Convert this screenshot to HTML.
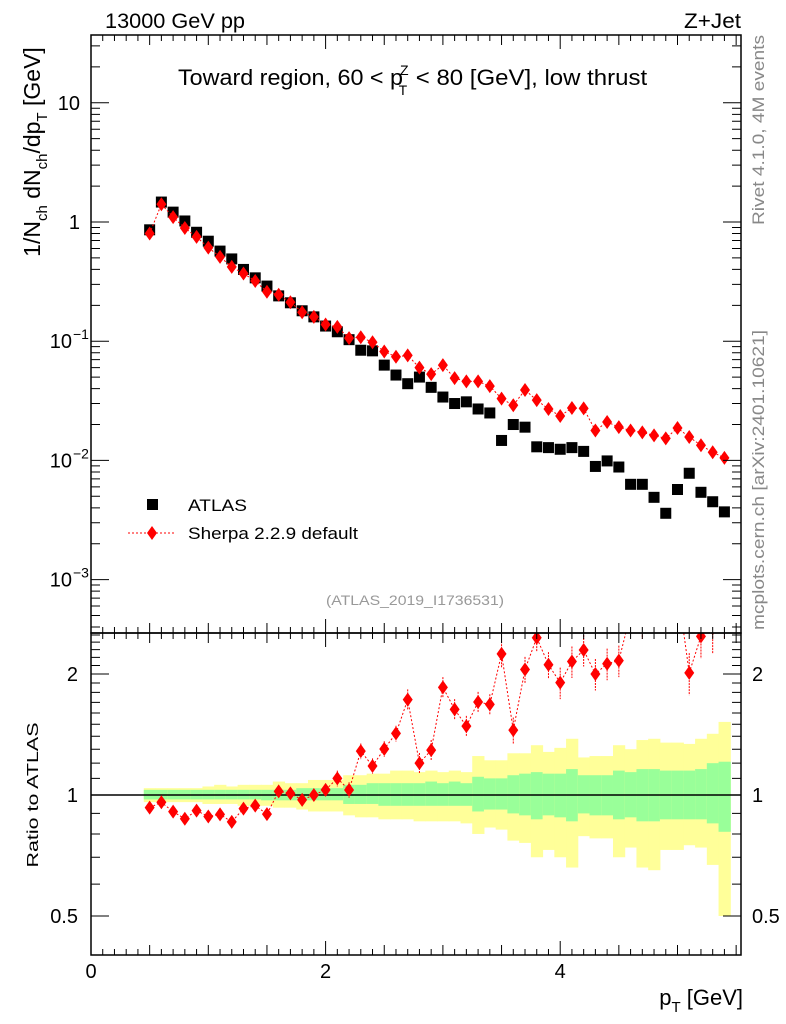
<!DOCTYPE html>
<html><head><meta charset="utf-8"><style>
body{margin:0;background:#fff}
svg{display:block;font-family:"Liberation Sans",sans-serif}
</style></head><body>
<svg id="c" width="786" height="1024" viewBox="0 0 786 1024" xmlns="http://www.w3.org/2000/svg">
<g id="bands"></g><g id="marks"></g><g id="axes"></g>
<text x="105" y="28" font-size="21" textLength="140" lengthAdjust="spacingAndGlyphs">13000 GeV pp</text>
<text x="684" y="28" font-size="21" textLength="57" lengthAdjust="spacingAndGlyphs">Z+Jet</text>
<text x="178" y="85" font-size="22"><tspan textLength="225" lengthAdjust="spacingAndGlyphs">Toward region, 60 &lt; p</tspan><tspan font-size="14" dy="-10" dx="-3">Z</tspan><tspan font-size="14" dy="20" dx="-10">T</tspan><tspan dy="-10" dx="2" textLength="238" lengthAdjust="spacingAndGlyphs"> &lt; 80 [GeV], low thrust</tspan></text>
<text transform="translate(40,152) rotate(-90)" font-size="23" text-anchor="middle">1/N<tspan font-size="15" dy="7">ch</tspan><tspan dy="-7"> dN</tspan><tspan font-size="15" dy="7">ch</tspan><tspan dy="-7">/dp</tspan><tspan font-size="15" dy="7">T</tspan><tspan dy="-7"> [GeV]</tspan></text>
<text transform="translate(764,130) rotate(-90)" font-size="17" fill="#888" text-anchor="middle" textLength="190" lengthAdjust="spacingAndGlyphs">Rivet 4.1.0,  4M events</text>
<text transform="translate(764,480) rotate(-90)" font-size="17" fill="#888" text-anchor="middle" textLength="300" lengthAdjust="spacingAndGlyphs">mcplots.cern.ch [arXiv:2401.10621]</text>
<text x="415" y="605" font-size="14" fill="#999" text-anchor="middle" textLength="178" lengthAdjust="spacingAndGlyphs">(ATLAS_2019_I1736531)</text>
<rect x="147" y="499" width="11" height="11" fill="#000"/>
<text x="188" y="511" font-size="17" textLength="59" lengthAdjust="spacingAndGlyphs">ATLAS</text>
<line x1="128" y1="533" x2="176" y2="533" stroke="#f00" stroke-dasharray="2,2"/>
<path d="M152,526 L157,533 L152,540 L147,533Z" fill="#f00"/>
<text x="188" y="539" font-size="17" textLength="170" lengthAdjust="spacingAndGlyphs">Sherpa 2.2.9 default</text>
<text transform="translate(38,795) rotate(-90)" font-size="16" text-anchor="middle" textLength="145" lengthAdjust="spacingAndGlyphs">Ratio to ATLAS</text>
<text x="743" y="1005" font-size="22" text-anchor="end">p<tspan font-size="15" dy="7">T</tspan><tspan dy="-7"> [GeV]</tspan></text>
</svg>
<script>
const atlas=[0.86,1.47,1.21,1.02,0.82,0.69,0.57,0.49,0.40,0.34,0.29,0.24,0.21,0.18,0.16,0.134,0.12,0.103,0.084,0.083,0.063,0.052,0.044,0.050,0.041,0.034,0.030,0.031,0.027,0.025,0.0147,0.020,0.019,0.013,0.0128,0.0124,0.0128,0.0119,0.0089,0.0099,0.0088,0.0063,0.0063,0.0049,0.0036,0.0057,0.0078,0.0054,0.0045,0.0037];
const sherpa=[0.80,1.41,1.10,0.89,0.75,0.61,0.51,0.42,0.37,0.32,0.26,0.245,0.212,0.175,0.16,0.138,0.132,0.106,0.108,0.098,0.082,0.074,0.076,0.060,0.053,0.063,0.049,0.046,0.046,0.042,0.033,0.029,0.039,0.032,0.027,0.0236,0.0275,0.0273,0.0178,0.021,0.019,0.0178,0.0172,0.0162,0.0153,0.0187,0.0157,0.0134,0.0117,0.0105];
const sherpaErr=[0.02,0.02,0.02,0.02,0.02,0.02,0.02,0.02,0.02,0.02,0.02,0.02,0.02,0.02,0.02,0.02,0.03,0.03,0.03,0.03,0.03,0.03,0.04,0.04,0.04,0.04,0.04,0.04,0.04,0.04,0.05,0.05,0.05,0.05,0.05,0.06,0.06,0.06,0.06,0.06,0.06,0.07,0.07,0.07,0.07,0.08,0.08,0.08,0.09,0.09];
const yelHi=[1.04,1.04,1.04,1.04,1.04,1.05,1.06,1.05,1.06,1.06,1.06,1.08,1.07,1.07,1.09,1.09,1.09,1.12,1.12,1.13,1.13,1.15,1.15,1.14,1.15,1.14,1.15,1.14,1.25,1.22,1.22,1.27,1.27,1.33,1.28,1.31,1.38,1.24,1.25,1.25,1.33,1.30,1.37,1.38,1.35,1.35,1.34,1.38,1.42,1.52];
const yelLo=[0.96,0.96,0.96,0.96,0.96,0.95,0.95,0.95,0.94,0.94,0.94,0.93,0.93,0.92,0.91,0.91,0.91,0.89,0.88,0.88,0.87,0.87,0.87,0.86,0.86,0.86,0.86,0.85,0.80,0.83,0.82,0.77,0.76,0.70,0.73,0.70,0.66,0.79,0.78,0.78,0.70,0.74,0.66,0.65,0.73,0.73,0.75,0.74,0.67,0.50];
const grnHi=[1.03,1.03,1.03,1.03,1.03,1.03,1.03,1.03,1.03,1.03,1.03,1.03,1.03,1.04,1.04,1.04,1.04,1.06,1.06,1.07,1.07,1.07,1.07,1.07,1.08,1.07,1.08,1.07,1.11,1.10,1.10,1.12,1.13,1.14,1.13,1.13,1.16,1.12,1.12,1.12,1.15,1.14,1.16,1.16,1.15,1.15,1.15,1.16,1.20,1.21];
const grnLo=[0.975,0.975,0.975,0.975,0.975,0.975,0.975,0.975,0.975,0.975,0.97,0.97,0.97,0.97,0.97,0.97,0.97,0.95,0.95,0.95,0.94,0.94,0.94,0.94,0.94,0.94,0.94,0.94,0.91,0.92,0.92,0.90,0.89,0.87,0.89,0.88,0.86,0.90,0.89,0.89,0.87,0.88,0.86,0.86,0.87,0.87,0.87,0.87,0.85,0.81];
const xStart=0.5, xStep=0.1;
const xTicks=[0,2,4];
const mainTicks=[[10,"10",""],[1,"1",""],[0.1,"10","\u22121"],[0.01,"10","\u22122"],[0.001,"10","\u22123"]];
const ratioTicks=[[2,"2"],[1,"1"],[0.5,"0.5"]];

const NS="http://www.w3.org/2000/svg";
const L=91,R=741,T=35,M=633,B=955;
const X=v=>L+v*117.3;
const Y=v=>222-Math.log10(v)*119.2;
const RY=v=>795-Math.log2(v)*121;
function mk(tag,attrs,parent){const e=document.createElementNS(NS,tag);for(const k in attrs)e.setAttribute(k,attrs[k]);document.getElementById(parent).appendChild(e);return e;}
for(let i=0;i<atlas.length;i++){
  const x0=X(xStart+xStep*i-0.05),x1=X(xStart+xStep*i+0.05);
  let e=mk('rect',{x:x0,y:RY(yelHi[i]),width:x1-x0+0.5,height:RY(yelLo[i])-RY(yelHi[i]),fill:'#ffff99'},'bands');
  
  
  e=mk('rect',{x:x0,y:RY(grnHi[i]),width:x1-x0+0.5,height:RY(grnLo[i])-RY(grnHi[i]),fill:'#99ff99'},'bands');
  
  
}
let e=mk('line',{x1:L,y1:RY(1),x2:R,y2:RY(1),stroke:'#000','stroke-width':1.5},'marks');


let pm="",pr="";
for(let i=0;i<atlas.length;i++){
  const x=X(xStart+xStep*i);
  e=mk('rect',{x:x-5.5,y:Y(atlas[i])-5.5,width:11,height:11,fill:'#000'},'marks');
  
  
  pm+=(i?"L":"M")+x+","+Y(sherpa[i]);
  pr+=(i?"L":"M")+x+","+RY(sherpa[i]/atlas[i]);
}
e=mk('path',{d:pm,fill:'none',stroke:'#f00','stroke-dasharray':'2,2'},'marks');


const cp=mk('clipPath',{id:'rc'},'marks');
const cr=document.createElementNS(NS,'rect');cr.setAttribute('x',L);cr.setAttribute('y',M);cr.setAttribute('width',R-L);cr.setAttribute('height',B-M);cp.appendChild(cr);
const rg=mk('g',{'clip-path':'url(#rc)',id:'rg'},'marks');
e=mk('path',{d:pr,fill:'none',stroke:'#f00','stroke-dasharray':'2,2'},'rg');


for(let i=0;i<atlas.length;i++){
  const x=X(xStart+xStep*i),ys=Y(sherpa[i]),r=sherpa[i]/atlas[i],er=sherpaErr[i];
  e=mk('path',{d:`M${x},${Y(sherpa[i]*(1+er))}L${x},${Y(sherpa[i]*(1-er))}`,stroke:'#f00','stroke-dasharray':'2,1'},'marks');
  
  
  e=mk('path',{d:`M${x},${ys-7}L${x+5},${ys}L${x},${ys+7}L${x-5},${ys}Z`,fill:'#f00'},'marks');
  
  
  const ry=RY(r);
  e=mk('path',{d:`M${x},${RY(r*(1+er*1.5))}L${x},${RY(r*(1-er*1.5))}`,stroke:'#f00','stroke-dasharray':'2,1'},'rg');
  
  
  e=mk('path',{d:`M${x},${ry-7}L${x+5},${ry}L${x},${ry+7}L${x-5},${ry}Z`,fill:'#f00'},'rg');
  
  
}
for(const [y0,y1,n] of [[T,M,'main-frame'],[M,B,'ratio-frame']]){
  e=mk('rect',{x:L,y:y0,width:R-L,height:y1-y0,fill:'none',stroke:'#000','stroke-width':1.5},'axes');
  
  
}
let d="";
for(let k=0;k<=11;k++){const v=k*0.5,x=X(v);const h=(k%4===0)?14:10;
  d+=`M${x},${T}v${h}M${x},${M}v-${h}M${x},${M}v${h}M${x},${B}v-${h}`;}
for(let k=1;k<56;k++){if(k%5===0)continue;const x=X(k*0.1);d+=`M${x},${T}v6M${x},${M}v-6M${x},${M}v6M${x},${B}v-6`;}
for(let p=-4;p<=1;p++)for(let k=1;k<=9;k++){const v=k*Math.pow(10,p),y=Y(v);if(y<T||y>M)continue;const h=k===1?18:9;d+=`M${L},${y}h${h}M${R},${y}h-${h}`;}
for(let k=4;k<=25;k++){const v=k/10,y=RY(v);if(y<M||y>B)continue;const maj=(k===5||k===10||k===20);const h=maj?18:9;d+=`M${L},${y}h${h}M${R},${y}h-${h}`;}
e=mk('path',{d:d,stroke:'#000','stroke-width':1,fill:'none'},'axes');


for(const v of xTicks){
  e=mk('text',{x:X(v),y:978,'font-size':20,'text-anchor':'middle'},'axes');e.textContent=v;
  
  
}
for(const [v,b,s] of mainTicks){
  e=mk('text',{x:s?72:80,y:Y(v)+7,'font-size':20,'text-anchor':'end'},'axes');e.textContent=b;
  
  
  if(s){const t=mk('text',{x:73,y:Y(v)-2,'font-size':14},'axes');t.textContent=s;
  
  }
}
for(const [v,l] of ratioTicks){
  e=mk('text',{x:78,y:RY(v)+7,'font-size':20,'text-anchor':'end'},'axes');e.textContent=l;
  
  
  e=mk('text',{x:752,y:RY(v)+7,'font-size':20},'axes');e.textContent=l;
  
  
}
</script>
</body></html>
